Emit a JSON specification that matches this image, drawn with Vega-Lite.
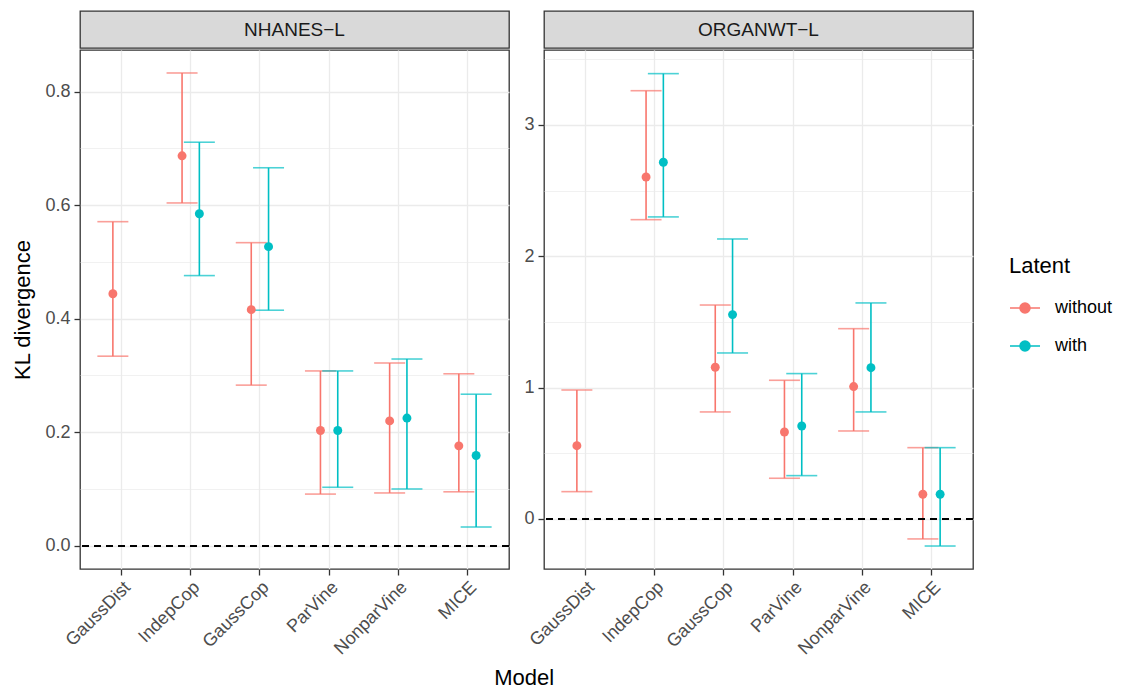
{
  "$schema": "https://vega.github.io/schema/vega-lite/v6.json",
  "background": "white",
  "padding": {"left": 11, "top": 10, "right": 5, "bottom": 5},
  "config": {
    "font": "Liberation Sans",
    "view": {"stroke": null},
    "axis": {"labelFont": "Liberation Sans", "titleFont": "Liberation Sans"},
    "title": {"font": "Liberation Sans"}
  },
  "datasets": {
    "kl": [
      {"panel": "NHANES-L", "model": "GaussDist", "latent": "without", "est": 0.444, "lo": 0.334, "hi": 0.571},
      {"panel": "NHANES-L", "model": "IndepCop", "latent": "without", "est": 0.687, "lo": 0.604, "hi": 0.833},
      {"panel": "NHANES-L", "model": "IndepCop", "latent": "with", "est": 0.585, "lo": 0.476, "hi": 0.711},
      {"panel": "NHANES-L", "model": "GaussCop", "latent": "without", "est": 0.416, "lo": 0.283, "hi": 0.534},
      {"panel": "NHANES-L", "model": "GaussCop", "latent": "with", "est": 0.527, "lo": 0.415, "hi": 0.666},
      {"panel": "NHANES-L", "model": "ParVine", "latent": "without", "est": 0.203, "lo": 0.091, "hi": 0.308},
      {"panel": "NHANES-L", "model": "ParVine", "latent": "with", "est": 0.203, "lo": 0.103, "hi": 0.308},
      {"panel": "NHANES-L", "model": "NonparVine", "latent": "without", "est": 0.220, "lo": 0.093, "hi": 0.322},
      {"panel": "NHANES-L", "model": "NonparVine", "latent": "with", "est": 0.225, "lo": 0.100, "hi": 0.329},
      {"panel": "NHANES-L", "model": "MICE", "latent": "without", "est": 0.176, "lo": 0.095, "hi": 0.303},
      {"panel": "NHANES-L", "model": "MICE", "latent": "with", "est": 0.159, "lo": 0.033, "hi": 0.267},
      {"panel": "ORGANWT-L", "model": "GaussDist", "latent": "without", "est": 0.558, "lo": 0.208, "hi": 0.982},
      {"panel": "ORGANWT-L", "model": "IndepCop", "latent": "without", "est": 2.604, "lo": 2.279, "hi": 3.261},
      {"panel": "ORGANWT-L", "model": "IndepCop", "latent": "with", "est": 2.716, "lo": 2.300, "hi": 3.391},
      {"panel": "ORGANWT-L", "model": "GaussCop", "latent": "without", "est": 1.155, "lo": 0.815, "hi": 1.629},
      {"panel": "ORGANWT-L", "model": "GaussCop", "latent": "with", "est": 1.556, "lo": 1.264, "hi": 2.132},
      {"panel": "ORGANWT-L", "model": "ParVine", "latent": "without", "est": 0.662, "lo": 0.310, "hi": 1.056},
      {"panel": "ORGANWT-L", "model": "ParVine", "latent": "with", "est": 0.708, "lo": 0.330, "hi": 1.107},
      {"panel": "ORGANWT-L", "model": "NonparVine", "latent": "without", "est": 1.008, "lo": 0.670, "hi": 1.449},
      {"panel": "ORGANWT-L", "model": "NonparVine", "latent": "with", "est": 1.152, "lo": 0.815, "hi": 1.645},
      {"panel": "ORGANWT-L", "model": "MICE", "latent": "without", "est": 0.188, "lo": -0.152, "hi": 0.543},
      {"panel": "ORGANWT-L", "model": "MICE", "latent": "with", "est": 0.188, "lo": -0.206, "hi": 0.543}
    ]
  },
  "title": {"text": "Model", "orient": "bottom", "anchor": "middle", "fontSize": 22, "fontWeight": "normal", "color": "#000000", "offset": 10, "dx": -38},
  "spacing": 12,
  "resolve": {"scale": {"y": "independent", "x": "independent", "xOffset": "independent"}},
  "hconcat": [
    {
      "spacing": 0,
      "vconcat": [
        {
          "width": 429, "height": 37,
          "data": {"values": [{"label": "NHANES−L"}]},
          "view": {"fill": "#D9D9D9", "stroke": "#333333", "strokeWidth": 1.3},
          "mark": {"type": "text", "fontSize": 19, "color": "#1A1A1A", "baseline": "middle", "align": "center"},
          "encoding": {"text": {"field": "label", "type": "nominal"}}
        },
        {
          "width": 429, "height": 519,
          "data": {"name": "kl"},
          "transform": [{"filter": "datum.panel === 'NHANES-L'"}],
          "view": {"stroke": "#333333", "strokeWidth": 1.3, "fill": "white"},
          "encoding": {
            "x": {"field": "model", "type": "nominal", "sort": ["GaussDist", "IndepCop", "GaussCop", "ParVine", "NonparVine", "MICE"],
              "scale": {"type": "band", "domain": ["GaussDist", "IndepCop", "GaussCop", "ParVine", "NonparVine", "MICE"], "paddingInner": 0.5, "paddingOuter": 0.35},
              "axis": {"title": null, "labelAngle": -45, "grid": true, "bandPosition": 0.5, "gridColor": "#EBEBEB", "gridWidth": 1.3, "tickColor": "#333333", "tickSize": 6, "tickWidth": 1.3, "labelColor": "#4D4D4D", "labelFontSize": 18, "domain": false, "labelPadding": 3}},
            "xOffset": {"field": "latent", "type": "nominal", "scale": {"domain": ["without", "with"], "paddingInner": 0, "paddingOuter": 0}},
            "color": {"field": "latent", "type": "nominal",
              "scale": {"domain": ["without", "with"], "range": ["#F8766D", "#00BFC4"]},
              "legend": {"title": "Latent", "orient": "none", "legendX": 929, "legendY": 245, "titleFontSize": 22, "titleFontWeight": "normal", "titleColor": "#000000", "titlePadding": 14, "labelFontSize": 18, "labelColor": "#000000", "labelOffset": 14, "symbolType": "M-1,0H1M-0.33,0A0.33,0.33,0,1,0,0.33,0A0.33,0.33,0,1,0,-0.33,0Z", "symbolSize": 900, "symbolStrokeWidth": 1.6, "rowPadding": 13, "padding": 0,
                "encode": {"symbols": {"update": {"stroke": {"scale": "color", "field": "value"}, "fill": {"scale": "color", "field": "value"}, "strokeWidth": {"value": 1.6}, "opacity": {"value": 1}}}}}}
          },
          "layer": [
            {
              "mark": {"type": "rule", "strokeWidth": 1.6},
              "encoding": {
                "y": {"field": "lo", "type": "quantitative", "title": "KL divergence",
                  "scale": {"domain": [-0.041, 0.8735], "nice": false, "zero": false},
                  "axis": {"values": [0, 0.1, 0.2, 0.3, 0.4, 0.5, 0.6, 0.7, 0.8],
                    "labelExpr": "round(datum.value*10) % 2 == 0 ? format(datum.value, '.1f') : ''",
                    "gridColor": "#EBEBEB",
                    "gridWidth": {"condition": {"test": "round(datum.value*10) % 2 == 0", "value": 1.3}, "value": 0.7},
                    "tickOpacity": {"condition": {"test": "round(datum.value*10) % 2 == 0", "value": 1}, "value": 0},
                    "tickColor": "#333333", "tickSize": 6, "tickWidth": 1.3, "domain": false,
                    "labelColor": "#4D4D4D", "labelFontSize": 18, "labelPadding": 4,
                    "titleFontSize": 22, "titleFontWeight": "normal", "titleColor": "#000000", "titlePadding": 10}},
                "y2": {"field": "hi"}
              }
            },
            {
              "mark": {"type": "tick", "orient": "horizontal", "thickness": 1.6, "size": 31},
              "encoding": {"y": {"field": "hi", "type": "quantitative", "title": "KL divergence"}}
            },
            {
              "mark": {"type": "tick", "orient": "horizontal", "thickness": 1.6, "size": 31},
              "encoding": {"y": {"field": "lo", "type": "quantitative", "title": "KL divergence"}}
            },
            {
              "mark": {"type": "point", "filled": true, "size": 80, "opacity": 1},
              "encoding": {"y": {"field": "est", "type": "quantitative", "title": "KL divergence"}}
            },
            {
              "mark": {"type": "rule", "color": "#000000", "strokeDash": [7, 5], "strokeWidth": 1.6},
              "encoding": {"x": null, "xOffset": null, "color": null, "y": {"datum": 0, "type": "quantitative"}}
            }
          ]
        }
      ]
    },
    {
      "spacing": 0,
      "vconcat": [
        {
          "width": 429, "height": 37,
          "data": {"values": [{"label": "ORGANWT−L"}]},
          "view": {"fill": "#D9D9D9", "stroke": "#333333", "strokeWidth": 1.3},
          "mark": {"type": "text", "fontSize": 19, "color": "#1A1A1A", "baseline": "middle", "align": "center"},
          "encoding": {"text": {"field": "label", "type": "nominal"}}
        },
        {
          "width": 429, "height": 519,
          "data": {"name": "kl"},
          "transform": [{"filter": "datum.panel === 'ORGANWT-L'"}],
          "view": {"stroke": "#333333", "strokeWidth": 1.3, "fill": "white"},
          "encoding": {
            "x": {"field": "model", "type": "nominal", "sort": ["GaussDist", "IndepCop", "GaussCop", "ParVine", "NonparVine", "MICE"],
              "scale": {"type": "band", "domain": ["GaussDist", "IndepCop", "GaussCop", "ParVine", "NonparVine", "MICE"], "paddingInner": 0.5, "paddingOuter": 0.35},
              "axis": {"title": null, "labelAngle": -45, "grid": true, "bandPosition": 0.5, "gridColor": "#EBEBEB", "gridWidth": 1.3, "tickColor": "#333333", "tickSize": 6, "tickWidth": 1.3, "labelColor": "#4D4D4D", "labelFontSize": 18, "domain": false, "labelPadding": 3}},
            "xOffset": {"field": "latent", "type": "nominal", "scale": {"domain": ["without", "with"], "paddingInner": 0, "paddingOuter": 0}},
            "color": {"field": "latent", "type": "nominal", "scale": {"domain": ["without", "with"], "range": ["#F8766D", "#00BFC4"]}}
          },
          "layer": [
            {
              "mark": {"type": "rule", "strokeWidth": 1.6},
              "encoding": {
                "y": {"field": "lo", "type": "quantitative", "title": null,
                  "scale": {"domain": [-0.381, 3.571], "nice": false, "zero": false},
                  "axis": {"values": [0, 0.5, 1, 1.5, 2, 2.5, 3, 3.5],
                    "labelExpr": "datum.value % 1 == 0 ? format(datum.value, 'd') : ''",
                    "gridColor": "#EBEBEB",
                    "gridWidth": {"condition": {"test": "datum.value % 1 == 0", "value": 1.3}, "value": 0.7},
                    "tickOpacity": {"condition": {"test": "datum.value % 1 == 0", "value": 1}, "value": 0},
                    "tickColor": "#333333", "tickSize": 6, "tickWidth": 1.3, "domain": false,
                    "labelColor": "#4D4D4D", "labelFontSize": 18, "labelPadding": 4}},
                "y2": {"field": "hi"}
              }
            },
            {
              "mark": {"type": "tick", "orient": "horizontal", "thickness": 1.6, "size": 31},
              "encoding": {"y": {"field": "hi", "type": "quantitative", "title": null}}
            },
            {
              "mark": {"type": "tick", "orient": "horizontal", "thickness": 1.6, "size": 31},
              "encoding": {"y": {"field": "lo", "type": "quantitative", "title": null}}
            },
            {
              "mark": {"type": "point", "filled": true, "size": 80, "opacity": 1},
              "encoding": {"y": {"field": "est", "type": "quantitative", "title": null}}
            },
            {
              "mark": {"type": "rule", "color": "#000000", "strokeDash": [7, 5], "strokeWidth": 1.6},
              "encoding": {"x": null, "xOffset": null, "color": null, "y": {"datum": 0, "type": "quantitative"}}
            }
          ]
        }
      ]
    }
  ]
}
